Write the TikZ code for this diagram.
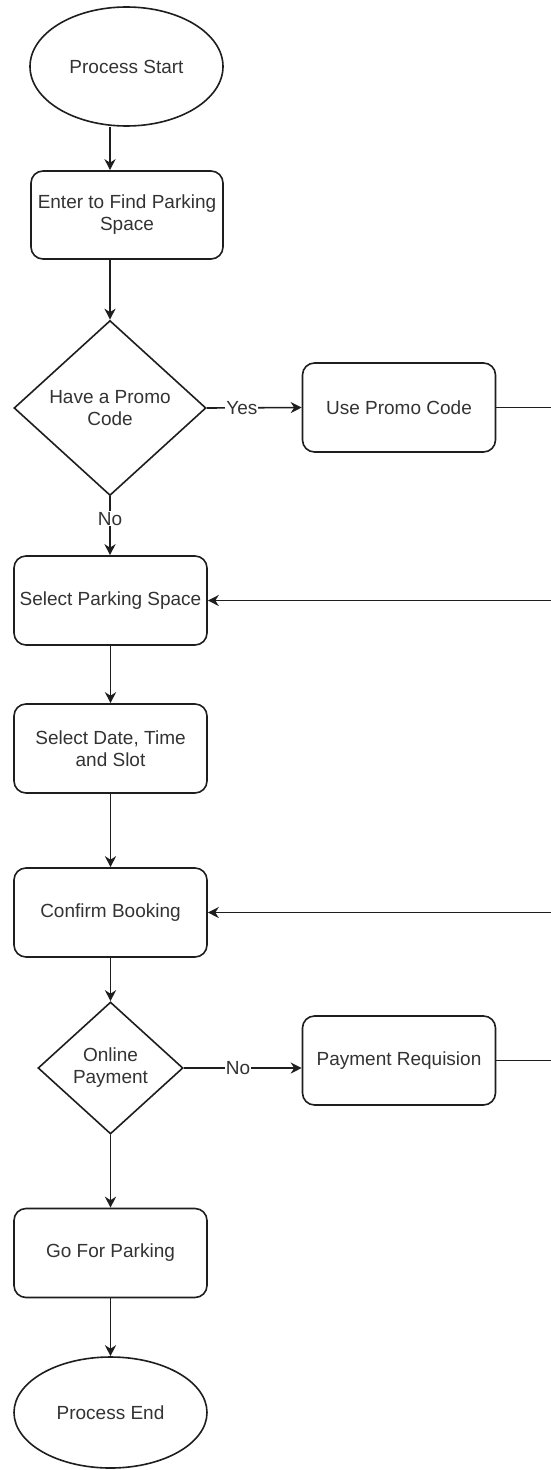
\documentclass[tikz,border=0pt]{standalone}
\usepackage{fontspec}
\setmainfont{Liberation Sans}
\usetikzlibrary{shapes.geometric,arrows.meta}

\definecolor{inkline}{HTML}{1E1E1E}
\definecolor{inktext}{HTML}{333333}

\tikzset{
  base/.style={draw=inkline, line width=1.6bp, text=inktext, align=center,
    inner sep=0pt, font=\fontsize{19bp}{22bp}\selectfont},
  terminal/.style={base, ellipse},
  stepbox/.style={base, rectangle, rounded corners=12bp,
    minimum width=193bp, minimum height=89bp},
  decision/.style={base, diamond},
  flow/.style={draw=inkline, line width=1.6bp,
    -{Stealth[length=11bp, width=11bp, inset=3.5bp]}},
  plain/.style={draw=inkline, line width=1.6bp},
  tag/.style={fill=white, text=inktext, inner sep=1bp,
    font=\fontsize{19bp}{22bp}\selectfont}
}

\begin{document}
\begin{tikzpicture}[x=1bp, y=-1bp]
  % canvas
  \fill[white] (0,0) rectangle (551,1470);
  \useasboundingbox (0,0) rectangle (551,1470);

  % main column
  \node[terminal, minimum width=193bp, minimum height=119bp] (start) at (126.5,66.5) {Process Start};
  \node[stepbox, minimum width=192bp, minimum height=88bp] (find) at (127,215) {Enter to Find Parking\\Space};
  \node[decision, minimum width=192bp, minimum height=175bp] (promo) at (110,408) {Have a Promo\\Code};
  \node[stepbox] (usepromo) at (399,407.5) {Use Promo Code};
  \node[stepbox] (selpark) at (110.5,600.5) {Select Parking Space};
  \node[stepbox] (seldate) at (110.5,748.5) {Select Date, Time\\and Slot};
  \node[stepbox] (confirm) at (110.5,912.5) {Confirm Booking};
  \node[decision, minimum width=145bp, minimum height=132bp] (online) at (110.5,1068) {Online\\Payment};
  \node[stepbox] (payreq) at (399,1060.5) {Payment Requision};
  \node[stepbox] (gopark) at (110.5,1253) {Go For Parking};
  \node[terminal, minimum width=193bp, minimum height=111bp] (finish) at (110.5,1412.5) {Process End};

  % loose ends running off to the right
  \coordinate (promoOut) at (551,407.5);
  \coordinate (parkIn) at (551,600.5);
  \coordinate (confirmIn) at (551,912.5);
  \coordinate (payOut) at (551,1060.5);

  % connectors
  \draw[flow] (promo.north |- start.south) -- (promo.north |- find.north);
  \draw[flow] (promo.north |- find.south) -- (promo.north);
  \draw[flow] (promo.east) -- node[tag, pos=0.37] {Yes} (usepromo.west);
  \draw[plain] (usepromo.east) -- (promoOut);
  \draw[flow] (promo.south) -- node[tag, pos=0.38] {No} (promo.south |- selpark.north);
  \draw[flow] (parkIn) -- (selpark.east);
  \draw[flow] (selpark.south) -- (seldate.north);
  \draw[flow] (seldate.south) -- (confirm.north);
  \draw[flow] (confirmIn) -- (confirm.east);
  \draw[flow] (confirm.south) -- (online.north);
  \draw[flow] (online.east) -- node[tag, pos=0.46] {No} (online.east -| payreq.west);
  \draw[plain] (payreq.east) -- (payOut);
  \draw[flow] (online.south) -- (gopark.north);
  \draw[flow] (gopark.south) -- (finish.north);
\end{tikzpicture}
\end{document}
